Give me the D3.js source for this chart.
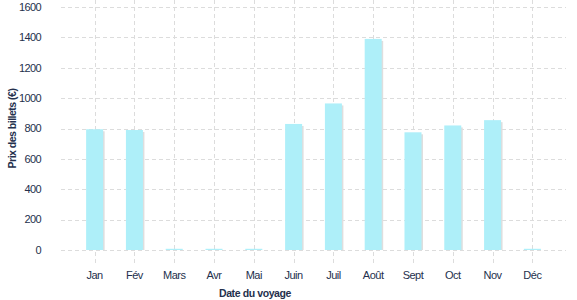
<!DOCTYPE html>
<html>
<head>
<meta charset="utf-8">
<script src="https://cdn.jsdelivr.net/npm/d3@7"></script>
<style>
  body { margin: 0; background: #fff; }
  text { font-family: "Liberation Sans", Arial, sans-serif; fill: #24304d; }
</style>
</head>
<body>
<svg id="chart" width="577" height="300"></svg>
<script>
const months = ['Jan', 'Fév', 'Mars', 'Avr', 'Mai', 'Juin', 'Juil', 'Août', 'Sept', 'Oct', 'Nov', 'Déc'];
const prices = [795, 790, 8, 8, 8, 830, 965, 1390, 775, 820, 855, 8];
const yTicks = [0, 200, 400, 600, 800, 1000, 1200, 1400, 1600];

const svg = d3.select('#chart');
const plotLeft = 61;
const plotRight = 566;
const plotTop = 7;
const plotBottom = 250;
const barWidth = 17;

const x = d3.scaleBand()
  .domain(months)
  .range([plotLeft, plotRight])
  .paddingInner(0)
  .paddingOuter(0.345);

const y = d3.scaleLinear()
  .domain([0, 1600])
  .range([plotBottom, plotTop]);

const cx = (m) => x(m) + x.bandwidth() / 2;

// grid
svg.append('g')
  .selectAll('line')
  .data(yTicks)
  .join('line')
  .attr('x1', plotLeft)
  .attr('x2', plotRight)
  .attr('y1', (d) => Math.round(y(d)) + 0.5)
  .attr('y2', (d) => Math.round(y(d)) + 0.5)
  .attr('stroke', '#dcdcdc')
  .attr('stroke-dasharray', '4,3');

svg.append('g')
  .selectAll('line')
  .data(months)
  .join('line')
  .attr('x1', (d) => Math.round(cx(d)) + 0.5)
  .attr('x2', (d) => Math.round(cx(d)) + 0.5)
  .attr('y1', 0)
  .attr('y2', 263)
  .attr('stroke', '#dcdcdc')
  .attr('stroke-dasharray', '4,3');

// bar shadows, then bars
svg.append('g')
  .selectAll('rect')
  .data(months)
  .join('rect')
  .attr('x', (d) => cx(d) - barWidth / 2 + 1.5)
  .attr('y', (d, i) => y(prices[i]) + 2)
  .attr('width', barWidth)
  .attr('height', (d, i) => Math.max(0, plotBottom - y(prices[i]) - 2))
  .attr('fill', '#dedede');

svg.append('g')
  .selectAll('rect')
  .data(months)
  .join('rect')
  .attr('x', (d) => cx(d) - barWidth / 2)
  .attr('y', (d, i) => y(prices[i]))
  .attr('width', barWidth)
  .attr('height', (d, i) => plotBottom - y(prices[i]))
  .attr('fill', '#aeeff9');

// y tick labels
svg.append('g')
  .selectAll('text')
  .data(yTicks)
  .join('text')
  .attr('x', 41)
  .attr('y', (d) => y(d))
  .attr('dy', '0.35em')
  .attr('text-anchor', 'end')
  .attr('font-size', 11)
  .attr('letter-spacing', '-0.6')
  .text((d) => d);

// x tick labels
svg.append('g')
  .selectAll('text')
  .data(months)
  .join('text')
  .attr('x', (d) => cx(d))
  .attr('y', 279)
  .attr('text-anchor', 'middle')
  .attr('font-size', 11)
  .attr('letter-spacing', '-0.5')
  .text((d) => d);

// axis titles
svg.append('text')
  .attr('transform', `translate(16, ${(plotTop + plotBottom) / 2}) rotate(-90)`)
  .attr('text-anchor', 'middle')
  .attr('font-size', 10.5)
  .attr('font-weight', 'bold')
  .attr('letter-spacing', '-0.5')
  .text('Prix des billets (€)');

svg.append('text')
  .attr('x', 255)
  .attr('y', 297)
  .attr('text-anchor', 'middle')
  .attr('font-size', 10.5)
  .attr('font-weight', 'bold')
  .attr('letter-spacing', '-0.4')
  .text('Date du voyage');
</script>
</body>
</html>
